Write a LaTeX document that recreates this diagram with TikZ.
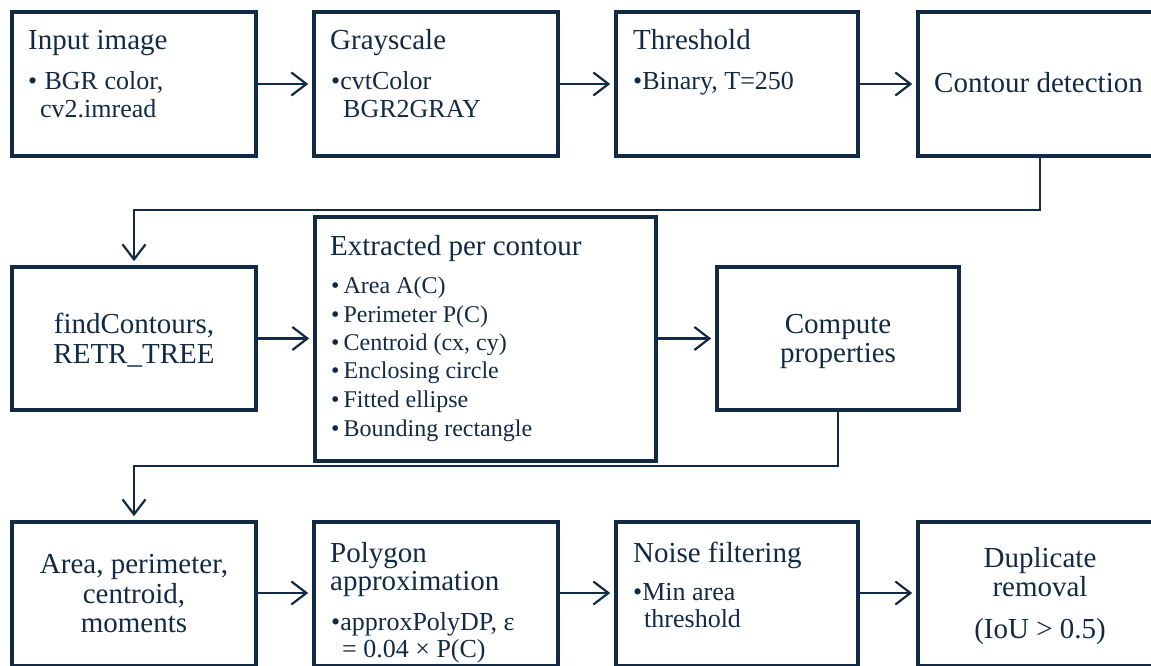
\documentclass[tikz,border=0pt]{standalone}
\usepackage{fontspec}
\setmainfont{LiberationSerif}[Extension=.ttf, UprightFont=*-Regular, BoldFont=*-Bold]
\usetikzlibrary{arrows.meta}
\definecolor{navy}{HTML}{132A45}
\tikzset{
  box/.style={draw=navy, line width=3.6pt, fill=white, inner sep=0pt},
  conn/.style={draw=navy, line width=2.2pt,
    -{Straight Barb[length=15pt,width=23pt,line width=2.2pt]}, shorten >=4pt},
  ttl/.style={anchor=base west, inner sep=0pt, text=navy, font=\fontsize{29}{30}\selectfont},
  blt/.style={anchor=base west, inner sep=0pt, text=navy, font=\fontsize{26}{28}\selectfont},
  itm/.style={anchor=base west, inner sep=0pt, text=navy, font=\fontsize{24}{26}\selectfont},
  ctr/.style={anchor=base, inner sep=0pt, text=navy, font=\fontsize{29}{30}\selectfont},
}
\begin{document}
\begin{tikzpicture}[x=1pt,y=-1pt]
\useasboundingbox (0,0) rectangle (1151,666);
\fill[white] (0,0) rectangle (1151,666);

% ---- row 1
\node[box, minimum width=244pt, minimum height=144pt] (inp) at (134,84) {};
\node[box, minimum width=244pt, minimum height=144pt] (gray) at (436,84) {};
\node[box, minimum width=242pt, minimum height=144pt] (thr) at (737,84) {};
\node[box, minimum width=244pt, minimum height=144pt] (cd) at (1040,84) {};

\node[ttl] (inpT) at (28,50) {Input image};
\node[blt] (inpA) at (28,90) {•\hspace{0.28em}BGR color,};
\node[blt] (inpB) at (40,118) {cv2.imread};

\node[ttl] (grayT) at (330,50) {Grayscale};
\node[blt] (grayA) at (331,90) {•cvtColor};
\node[blt] (grayB) at (343,118) {BGR2GRAY};

\node[ttl] (thrT) at (633,50) {Threshold};
\node[blt] (thrA) at (633,90) {•Binary, T=250};

\node[ttl] (cdT) at (934,93) {Contour detection};

% ---- row 2
\node[box, minimum width=244pt, minimum height=143pt] (fc) at (134,338.5) {};
\node[box, minimum width=341pt, minimum height=244pt] (ex) at (485.5,339) {};
\node[box, minimum width=242pt, minimum height=143pt] (cp) at (838,338.5) {};

\node[ctr] (fcA) at (134,333) {findContours,};
\node[ctr] (fcB) at (134,363) {RETR\_TREE};

\node[ttl] (exT) at (330,255) {Extracted per contour};
\node[itm] (ex1) at (331,293) {•\,Area A(C)};
\node[itm] (ex2) at (331,322) {•\,Perimeter P(C)};
\node[itm] (ex3) at (331,350) {•\,Centroid (cx, cy)};
\node[itm] (ex4) at (331,378) {•\,Enclosing circle};
\node[itm] (ex5) at (331,407) {•\,Fitted ellipse};
\node[itm] (ex6) at (331,436) {•\,Bounding rectangle};

\node[ctr] (cpA) at (838,333) {Compute};
\node[ctr] (cpB) at (838,362) {properties};

% ---- row 3
\node[box, minimum width=244pt, minimum height=144pt] (area) at (134,594) {};
\node[box, minimum width=244pt, minimum height=144pt] (poly) at (436,594) {};
\node[box, minimum width=242pt, minimum height=144pt] (noise) at (737,594) {};
\node[box, minimum width=244pt, minimum height=144pt] (dup) at (1040,594) {};

\node[ctr] (areaA) at (134,573) {Area, perimeter,};
\node[ctr] (areaB) at (134,603) {centroid,};
\node[ctr] (areaC) at (134,632) {moments};

\node[ttl] (polyT) at (330,562) {Polygon};
\node[ttl] (polyU) at (330,590) {approximation};
\node[blt] (polyA) at (331,630) {•approxPolyDP, ε};
\node[blt] (polyB) at (342,657) {= 0.04 × P(C)};

\node[ttl] (noiT) at (633,562) {Noise filtering};
\node[blt] (noiA) at (633,600) {•Min area};
\node[blt] (noiB) at (644,627) {threshold};

\node[ctr] (dupA) at (1040,567) {Duplicate};
\node[ctr] (dupB) at (1040,596) {removal};
\node[ctr] (dupC) at (1040,638) {(IoU > 0.5)};

% ---- connectors
\draw[conn] (inp.east) -- (gray.west);
\draw[conn] (gray.east) -- (thr.west);
\draw[conn] (thr.east) -- (cd.west);
\draw[conn] (cd.south) -- (cd.south |- 0,210) -| (fc.north);

\draw[conn] (fc.east) -- (fc.east -| ex.west);
\draw[conn] (ex.east |- cp.west) -- (cp.west);
\draw[conn] (cp.south) -- (cp.south |- 0,466) -| (area.north);

\draw[conn] (area.east |- 0,593) -- (poly.west |- 0,593);
\draw[conn] (poly.east |- 0,593) -- (noise.west |- 0,593);
\draw[conn] (noise.east |- 0,593) -- (dup.west |- 0,593);
\end{tikzpicture}
\end{document}
